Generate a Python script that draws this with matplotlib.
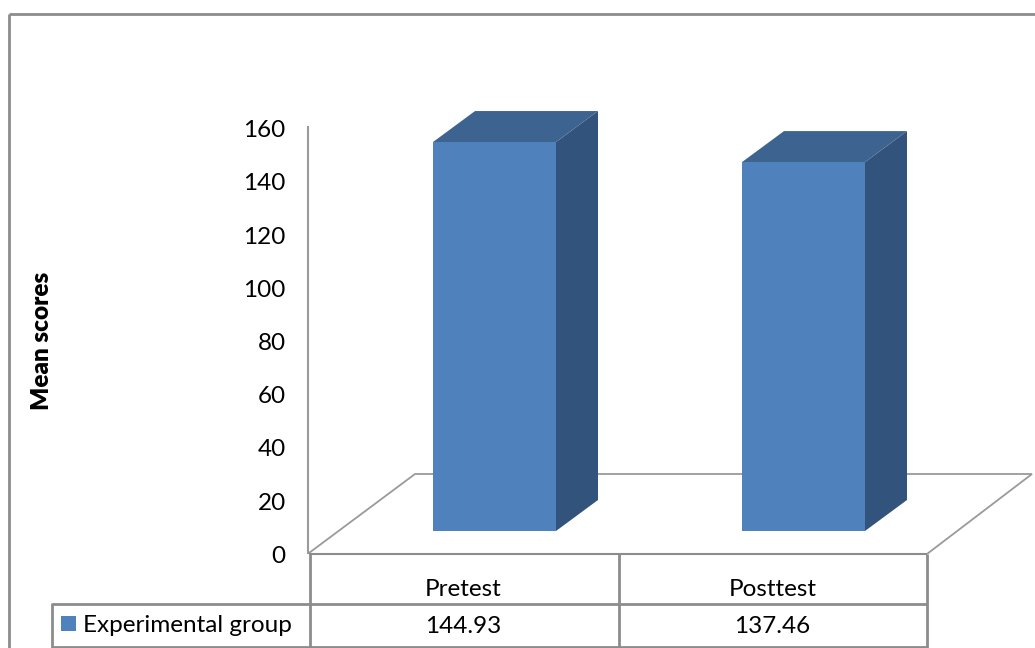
import matplotlib
matplotlib.use('Agg')
import matplotlib.pyplot as plt
from matplotlib.patches import Rectangle
from matplotlib.transforms import ScaledTranslation

# Data
tests = ['Pretest', 'Posttest']
mean_scores = [144.93, 137.46]
y_ticks = [0, 20, 40, 60, 80, 100, 120, 140, 160]
series_name = 'Experimental group'

W, H = 1035, 648
GREY = '#8c8c8c'
FRONT = '#4f81bd'
TOP = '#3d6391'
SIDE = '#32547c'
FONT = 17.5

plt.rcParams['font.family'] = ['Lato', 'DejaVu Sans']


def px_axes(fig, left, top, right, bottom):
    # axes placed using pixel edges, y measured from the top
    return fig.add_axes([left / W, 1 - bottom / H, (right - left) / W, (bottom - top) / H])


fig = plt.figure(figsize=(W / 100, H / 100), dpi=100, facecolor='white')

# overlay in pixel units for the frame, floor and table lines
bg = fig.add_axes([0, 0, 1, 1])
bg.set_xlim(0, W)
bg.set_ylim(H, 0)
bg.axis('off')


def line(xs, ys, lw=1.5, color=GREY):
    bg.plot(xs, ys, color=color, lw=lw, solid_capstyle='butt', solid_joinstyle='miter')


# outer frame
line([9, 9], [648, 14], lw=2)
line([9, 1035], [14, 14], lw=2)

# floor of the 3D plot
line([309, 415, 1032, 927], [553, 474, 474, 554], lw=1.3, color='#9a9a9a')

# data table lines
line([309, 927], [554, 554])
line([52, 927], [603.5, 603.5], lw=2)
line([52, 927], [647, 647], lw=2)
line([52, 52], [603, 648], lw=2)
for x in [309.5, 618.5, 927]:
    line([x, x], [554, 648], lw=2)

# value axis
ax = px_axes(fig, 308, 127, 927, 553)
ax.patch.set_alpha(0)
ax.set_ylim(0, 160)
ax.set_yticks(y_ticks)
ax.set_xticks([])
ax.tick_params(axis='y', length=0, pad=16, labelsize=FONT, labelcolor='black')
for name in ['top', 'right', 'bottom']:
    ax.spines[name].set_visible(False)
ax.spines['left'].set_color('#9a9a9a')
ax.spines['left'].set_linewidth(1.5)

# nudge the tick labels down a little
nudge = ScaledTranslation(0, -1.5 / 100, fig.dpi_scale_trans)
for label in ax.get_yticklabels():
    label.set_transform(label.get_transform() + nudge)

# bars sit further back on the floor, with their own scale
bars = px_axes(fig, 340, 101.6, 958, 531)
bars.patch.set_alpha(0)
bars.set_xlim(-0.5, 1.5)
bars.set_ylim(0, 160)
bars.axis('off')

bar_w = 123 / 309
depth_x = 42 / 309
depth_y = 31 / (429.4 / 160)
positions = range(len(tests))

for i, v in zip(positions, mean_scores):
    x0 = i - bar_w / 2
    x1 = i + bar_w / 2
    bars.fill([x1, x1 + depth_x, x1 + depth_x, x1], [0, depth_y, v + depth_y, v], color=SIDE, lw=0, clip_on=False)
    bars.fill([x0, x0 + depth_x, x1 + depth_x, x1], [v, v + depth_y, v + depth_y, v], color=TOP, lw=0, clip_on=False)
bars.bar(list(positions), mean_scores, width=bar_w, color=FRONT, lw=0)

# y axis title
bg.text(42, 341, 'Mean scores', rotation=90, ha='center', va='center', fontsize=FONT, fontweight='heavy')

# table text
col_centres = [463.5, 772.5]
for x, label, v in zip(col_centres, tests, mean_scores):
    bg.text(x, 589.5, label, ha='center', va='center', fontsize=FONT)
    bg.text(x, 626.5, f'{v:.2f}', ha='center', va='center', fontsize=FONT)

bg.add_patch(Rectangle((61, 616), 15, 15, facecolor=FRONT, edgecolor='none'))
bg.text(83, 625.5, series_name, ha='left', va='center', fontsize=FONT)

fig.savefig('out.png', dpi=100)
